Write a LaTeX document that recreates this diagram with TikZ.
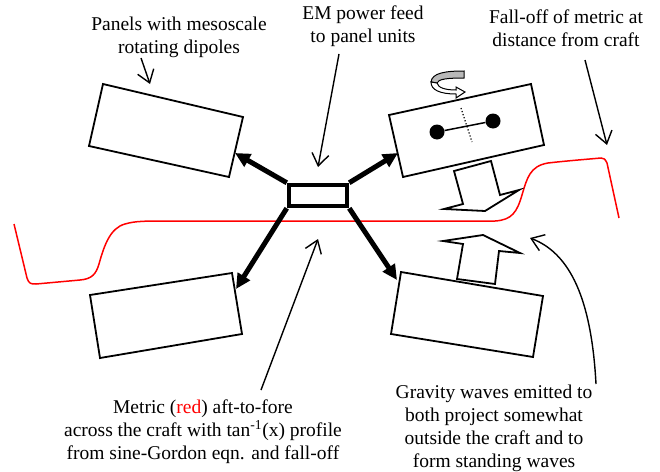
\documentclass[tikz,border=0pt]{standalone}
\usepackage{fontspec}
\setmainfont{Liberation Serif}
\usetikzlibrary{arrows.meta}
\begin{document}
\begin{tikzpicture}[x=1pt,y=-1pt,
  lbl/.style={align=center,inner sep=0pt,font=\fontsize{19.5}{23}\selectfont},
  panel/.style={draw,line width=1.8pt,line join=miter},
  feed/.style={line width=5pt,-{Triangle[length=15pt,width=14pt]}},
  pointer/.style={line width=1.4pt,-{Straight Barb[length=12pt,width=17pt]}},
  blockarrow/.style={draw,line width=1.8pt,fill=white,line join=miter},
  metric/.style={draw=red,line width=1.5pt}]
\useasboundingbox (0,0) rectangle (660,471);

% labels
\node[lbl] (lpanels) at (179,37) {Panels with mesoscale\\rotating dipoles};
\node[lbl] (lfeed) at (363,26) {EM power feed\\to panel units};
\node[lbl] (lfall) at (566,28) {Fall-off of metric at\\distance from craft};
\node[lbl] (lmetric) at (203,432) {Metric (\textcolor{red}{red}) aft-to-fore\\across the craft with tan\textsuperscript{-1}(x) profile\\from sine-Gordon eqn. and fall-off};
\node[lbl] (lgrav) at (494,428) {Gravity waves emitted to\\both project somewhat\\outside the craft and to\\form standing waves};

% red metric curve
\draw[metric] (14,224) -- (27,278) .. controls (29,284) and (31,284) .. (36,284)
  -- (80,280) .. controls (92,279) and (96,274) .. (99,264)
  .. controls (104,246) and (110,228) .. (125,224)
  .. controls (135,221) and (145,221) .. (170,221) -- (495,221)
  .. controls (512,220) and (517,212) .. (522,195)
  .. controls (527,178) and (530,166) .. (548,163)
  .. controls (565,161) and (590,159) .. (601,158)
  .. controls (604,158) and (605,159) .. (607,163) -- (619,218);

% panels
\draw[panel] (103,84) -- (243,117) -- (229,177) -- (89,146) -- cycle;
\draw[panel] (389,115) -- (531,84) -- (544,145) -- (403,177) -- cycle;
\draw[panel] (90,295) -- (232,273) -- (242,334) -- (100,358) -- cycle;
\draw[panel] (401,272) -- (543,296) -- (533,357) -- (391,334) -- cycle;

% dipole
\node[circle,fill,inner sep=0pt,minimum size=15pt] (d1) at (437,132) {};
\node[circle,fill,inner sep=0pt,minimum size=15pt] (d2) at (493,121) {};
\draw[line width=1.5pt] (d1) -- (d2);
\draw[dotted,line width=1.2pt] (461,108) -- (472,142);

% rotation arrow
\draw[fill=gray!55,line width=1pt] (464,71) .. controls (445,71) and (432,73) .. (431,82)
  -- (437,83) .. controls (438,79) and (448,78) .. (464,78) -- cycle;
\draw[fill=white,line width=1pt] (431,82) .. controls (431,90) and (440,94) .. (456,94)
  -- (456,98) -- (465,92) -- (456,87) -- (456,90)
  .. controls (446,90) and (438,88) .. (437,83) -- cycle;

% block arrows
\draw[blockarrow] (454,171) -- (463,204) -- (444,209) -- (485,211) -- (519,190) -- (500,195) -- (491,161) -- cycle;
\draw[blockarrow] (483,235) -- (443,241) -- (463,244) -- (457,279) -- (495,284) -- (499,251) -- (520,253) -- cycle;

% hub and feed arrows
\node[draw,line width=4.5pt,minimum width=58pt,minimum height=21pt,inner sep=0pt] (hub) at (318,195.5) {};
\coordinate (ptl) at (235,153);
\coordinate (ptr) at (398,153);
\coordinate (pbl) at (236,289);
\coordinate (pbr) at (397,280);
\draw[feed] (hub.north west) -- (ptl);
\draw[feed] (hub.north east) -- (ptr);
\draw[feed] (hub.south west) -- (pbl);
\draw[feed] (hub.south east) -- (pbr);

% pointers
\coordinate (a1s) at (141,58);  \coordinate (a1e) at (150,84);
\coordinate (a2s) at (339,54);  \coordinate (a2e) at (318,167);
\coordinate (a3s) at (585,60);  \coordinate (a3e) at (607,145);
\coordinate (a4s) at (261,390); \coordinate (a4e) at (318,239);
\coordinate (a5s) at (596,384); \coordinate (a5e) at (530,238);
\draw[pointer] (a1s) -- (a1e);
\draw[pointer] (a2s) -- (a2e);
\draw[pointer] (a3s) -- (a3e);
\draw[pointer] (a4s) -- (a4e);
\draw[pointer] (a5s) .. controls (592,310) and (575,255) .. (a5e);
\end{tikzpicture}
\end{document}
